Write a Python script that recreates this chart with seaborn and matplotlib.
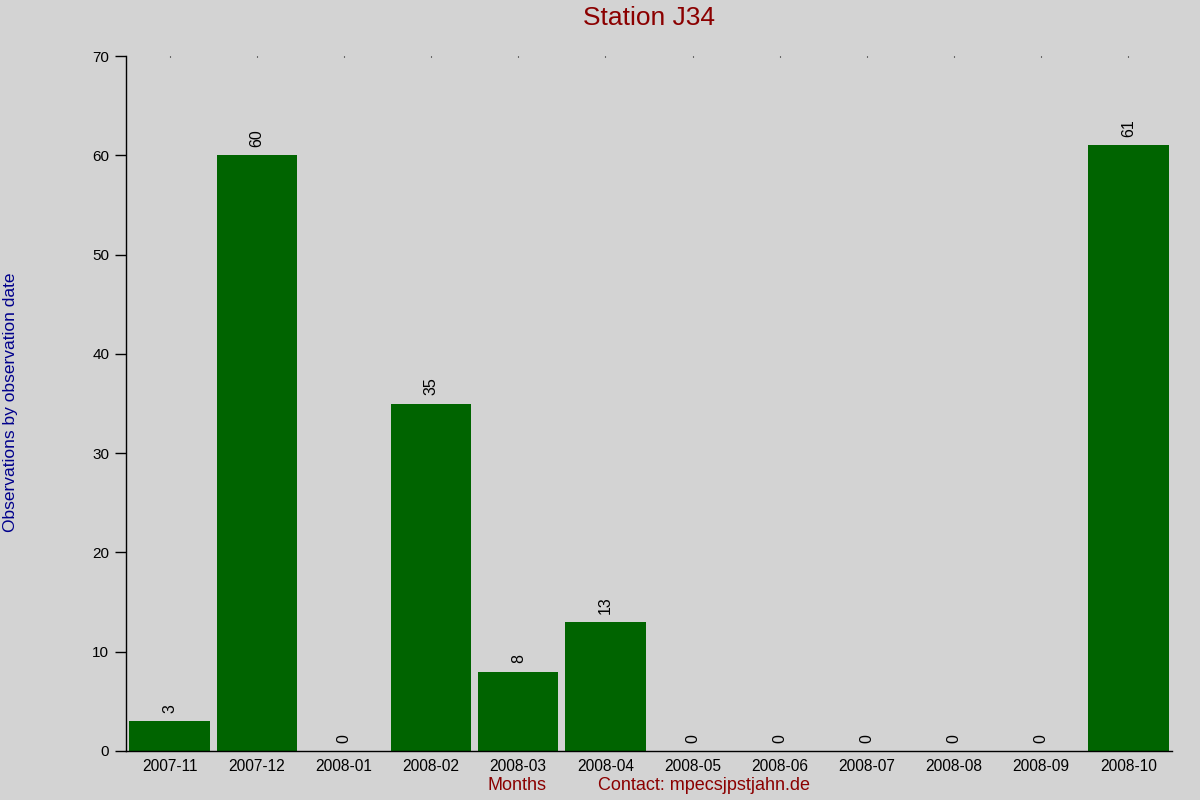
import matplotlib
matplotlib.use("Agg")
import matplotlib.pyplot as plt
import seaborn as sns
import pandas as pd

months = ["2007-11", "2007-12", "2008-01", "2008-02", "2008-03", "2008-04",
          "2008-05", "2008-06", "2008-07", "2008-08", "2008-09", "2008-10"]
observations = [3, 60, 0, 35, 8, 13, 0, 0, 0, 0, 0, 61]
y_ticks = [0, 10, 20, 30, 40, 50, 60, 70]

sns.set_style("white")
plt.rcParams["font.family"] = ["Liberation Sans", "DejaVu Sans"]
plt.rcParams["text.color"] = "black"
plt.rcParams["xtick.color"] = "black"
plt.rcParams["ytick.color"] = "black"
plt.rcParams["xtick.labelcolor"] = "black"
plt.rcParams["ytick.labelcolor"] = "black"

bg = "#d3d3d3"
fig = plt.figure(figsize=(12, 8), dpi=100, facecolor=bg)
ax = fig.add_axes([126 / 1200, 49 / 800, 1046 / 1200, 695 / 800])
ax.set_facecolor(bg)

df = pd.DataFrame({"month": months, "obs": observations})
sns.barplot(data=df, x="month", y="obs", color="#006400", saturation=1,
            width=0.92, ax=ax, edgecolor="none")

ax.bar_label(ax.containers[0], labels=[str(v) for v in observations],
             rotation=90, padding=6, fontsize=11.5, color="black")

ax.set_xlim(-0.5, len(months) - 0.5)
ax.set_ylim(0, 70)
ax.set_yticks(y_ticks)
ax.set_yticklabels([str(t) for t in y_ticks], fontsize=11)
ax.tick_params(axis="y", left=True, length=8, width=1, color="black",
               labelcolor="black", pad=4, direction="out")
ax.tick_params(axis="x", bottom=False, top=True, length=0.8, width=0.8,
               color="black", labelcolor="black", direction="in",
               labelsize=11.2, pad=6)

for s in ["top", "right"]:
    ax.spines[s].set_visible(False)
for s in ["left", "bottom"]:
    ax.spines[s].set_color("black")
    ax.spines[s].set_linewidth(1)

ax.set_xlabel("")
ax.set_ylabel("")

fig.text(649 / 1200, 1 - 18 / 800, "Station J34", ha="center", va="center",
         fontsize=19, color="#8b0000")
fig.text(11 / 1200, 1 - 402 / 800, "Observations by observation date",
         rotation=90, ha="center", va="center", fontsize=12.5, color="#00008b")
fig.text(517 / 1200, 1 - 786 / 800, "Months", ha="center", va="center",
         fontsize=13, color="#8b0000")
fig.text(598 / 1200, 1 - 786 / 800, "Contact: mpecsjpstjahn.de", ha="left",
         va="center", fontsize=13, color="#8b0000")

fig.savefig("out.png", dpi=100, facecolor=bg)
